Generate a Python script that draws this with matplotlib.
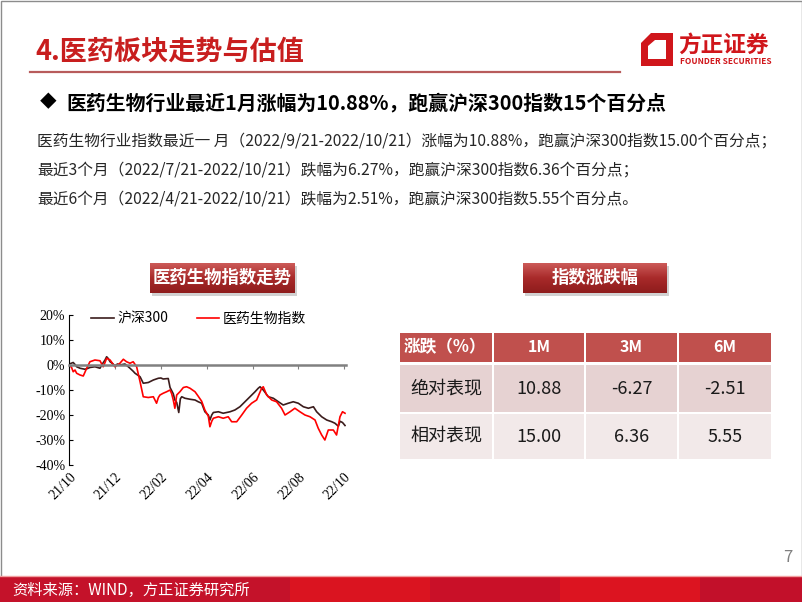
import matplotlib.pyplot as plt
import numpy as np
from matplotlib.patches import Rectangle, Polygon
from matplotlib.colors import LinearSegmentedColormap

plt.rcParams['font.family'] = ['Noto Sans CJK SC', 'DejaVu Sans']

# 走势图数据：横轴为自 2021/10/21 起的月数，纵轴为累计涨跌幅(%)
hs300_x = [0, 0.17, 0.25, 0.32, 0.47, 0.68, 0.8, 0.9, 1.12, 1.34, 1.45, 1.56, 1.63, 1.7, 1.78,
           1.9, 1.99, 2.1, 2.21, 2.43, 2.55, 2.65, 2.79, 2.87, 3.09, 3.23, 3.45, 3.67, 3.89, 4.0,
           4.1, 4.32, 4.4, 4.54, 4.61, 4.69, 4.78, 4.85, 4.91, 5.05, 5.27, 5.49, 5.63, 5.78, 5.92,
           6.07, 6.14, 6.22, 6.29, 6.51, 6.72, 7.02, 7.23, 7.45, 7.67, 7.89, 8.11, 8.25, 8.33, 8.47,
           8.69, 8.91, 9.13, 9.34, 9.56, 9.78, 10.0, 10.22, 10.44, 10.66, 10.8, 11.02, 11.24, 11.46,
           11.6, 11.75, 11.82, 11.93, 12.04]
hs300_y = [0.4, 1.0, 0.2, -0.7, -1.3, -1.7, -1.4, -1.0, -0.7, -1.3, 0.5, 2.0, 3.3, 2.6, 1.3,
           0.5, -0.4, 0.4, 0, 0.4, -0.5, -1.3, -2.5, -3.3, -4.7, -7.3, -7.0, -6.0, -5.3, -5.2,
           -5.6, -5.4, -9.0, -11.5, -14.0, -15.0, -19.0, -13.5, -12.7, -13.3, -13.7, -14.0, -14.7, -15.3, -18.7,
           -20.0, -22.0, -20.0, -19.0, -18.7, -19.3, -18.7, -18.0, -16.7, -14.7, -12.7, -10.7, -9.3, -8.7, -10.0,
           -12.7, -13.3, -14.7, -16.0, -15.3, -14.7, -15.3, -16.7, -17.3, -16.7, -18.7, -20.7, -22.0, -22.7,
           -23.3, -24.5, -22.5, -23.0, -24.2]

yiyao_x = [0, 0.1, 0.17, 0.25, 0.32, 0.47, 0.61, 0.76, 0.9, 1.12, 1.34, 1.48, 1.56, 1.63, 1.78,
           1.99, 2.21, 2.36, 2.5, 2.65, 2.79, 2.94, 3.09, 3.23, 3.45, 3.67, 3.81, 3.89, 3.96, 4.1,
           4.25, 4.4, 4.47, 4.54, 4.61, 4.69, 4.83, 4.98, 5.12, 5.27, 5.49, 5.63, 5.78, 5.92, 6.07,
           6.14, 6.22, 6.29, 6.51, 6.72, 6.94, 7.09, 7.31, 7.53, 7.74, 7.96, 8.18, 8.4, 8.47, 8.62,
           8.84, 9.05, 9.27, 9.42, 9.64, 9.85, 10.07, 10.29, 10.51, 10.73, 10.87, 11.02, 11.16, 11.31,
           11.53, 11.67, 11.82, 11.93, 12.04]
yiyao_y = [0, -1.0, -2.7, -2.0, -3.3, -4.0, -4.4, -1.3, 1.3, 2.0, 1.7, -0.7, 1.0, 2.7, 2.0,
           -0.7, 0.7, 2.3, 1.3, 0.7, 1.3, -0.7, -6.7, -12.7, -13.0, -12.7, -15.3, -13.0, -12.0, -11.3,
           -10.7, -10.0, -11.5, -14.0, -17.3, -12.0, -10.7, -9.0, -8.7, -9.3, -10.7, -12.5, -14.5, -18.0, -20.5,
           -24.7, -22.5, -21.3, -20.7, -21.3, -20.7, -22.7, -22.7, -20.0, -17.3, -15.3, -14.0, -9.3, -8.7, -12.0,
           -14.0, -14.7, -17.3, -20.0, -18.7, -17.3, -18.7, -20.0, -20.7, -22.0, -25.3, -28.0, -30.0, -26.0,
           -26.0, -28.0, -20.7, -18.7, -19.3]

x_tick_pos = [0, 2, 4, 6, 8, 10, 12]
x_tick_labels = ['21/10', '21/12', '22/02', '22/04', '22/06', '22/08', '22/10']
y_ticks = [20, 10, 0, -10, -20, -30, -40]

# 涨跌幅表格
table_header = ['涨跌（%）', '1M', '3M', '6M']
row_names = ['绝对表现', '相对表现']
row_values = [[10.88, -6.27, -2.51], [15.00, 6.36, 5.55]]

body_lines = [
    '医药生物行业指数最近一 月（2022/9/21-2022/10/21）涨幅为10.88%，跑赢沪深300指数15.00个百分点；',
    '最近3个月（2022/7/21-2022/10/21）跌幅为6.27%，跑赢沪深300指数6.36个百分点；',
    '最近6个月（2022/4/21-2022/10/21）跌幅为2.51%，跑赢沪深300指数5.55个百分点。',
]

fig = plt.figure(figsize=(8.02, 6.02), dpi=100)

# 整页背景层，用像素坐标排版
bg = fig.add_axes([0, 0, 1, 1], zorder=0)
bg.axis('off')

red = '#c81e1e'
bg.add_patch(Rectangle((0.5, 0.5), 801, 601, fill=False, ec='#8c8c8c', lw=1))

# 标题与下划线
bg.text(35, 52, '4.医药板块走势与估值', fontsize=19.5, fontweight='bold', color=red, va='center')
bg.plot([30, 620], [72, 72], color='#b85c5c', lw=1.6)

# logo
bg.add_patch(Polygon([(641, 43), (651, 33), (673, 33), (673, 66), (641, 66)], color='#d0161b', lw=0))
bg.add_patch(Polygon([(648, 46), (655, 40), (666, 40), (666, 59), (648, 59)], color='white', lw=0))
bg.text(678, 45, '方正证券', fontsize=16.3, fontweight='bold', color='#d0161b', va='center')
bg.text(680, 62, 'FOUNDER SECURITIES', fontsize=6.0, fontweight='bold', color='#d0161b', va='center')

# 要点
bg.text(40, 103, '◆', fontsize=12, color='black', va='center')
bg.text(66, 103, '医药生物行业最近1月涨幅为10.88%，跑赢沪深300指数15个百分点',
        fontsize=14.3, fontweight='bold', color='black', va='center')
for i, line in enumerate(body_lines):
    bg.text(37, 141 + i * 29, line, fontsize=11.3, color='#262626', va='center')

# 带渐变的小标题框
cmap_box = LinearSegmentedColormap.from_list('box', ['#cc5a58', '#a82a2a', '#8e1c1c'])
grad = np.linspace(0, 1, 60).reshape(-1, 1)


def title_box(x, y, w, h, text):
    bg.add_patch(Rectangle((x + 2, y + 3), w, h, color='#9a9a9a', alpha=0.45, lw=0, zorder=1))
    bg.imshow(grad, extent=(x, x + w, y + h, y), cmap=cmap_box, aspect='auto', zorder=2)
    bg.text(x + w / 2, y + h / 2, text, fontsize=12.5, fontweight='bold', color='white',
            ha='center', va='center', zorder=3)


title_box(150, 263, 145, 30, '医药生物指数走势')
title_box(523, 263, 144, 30, '指数涨跌幅')

# 表格
col_left = [400, 494, 586, 679]
col_width = [92, 90, 91, 92]
row_top = [333, 365, 414]
row_height = [29, 47, 45]
row_colors = ['#c0504d', '#e6d2d2', '#f2e9e9']
for r in range(3):
    for c in range(4):
        bg.add_patch(Rectangle((col_left[c], row_top[r]), col_width[c], row_height[r],
                               color=row_colors[r], lw=0))
for c, name in enumerate(table_header):
    cy = row_top[0] + row_height[0] / 2
    if c == 0:
        bg.text(col_left[c] + 4, cy, name, fontsize=12, fontweight='bold', color='white', va='center')
    else:
        bg.text(col_left[c] + col_width[c] / 2, cy, name, fontsize=11.5, fontweight='bold',
                color='white', ha='center', va='center')
for r, name in enumerate(row_names):
    cy = row_top[r + 1] + row_height[r + 1] / 2
    bg.text(col_left[0] + col_width[0] / 2, cy, name, fontsize=13, color='#1a1a1a', ha='center', va='center')
    for c, v in enumerate(row_values[r]):
        bg.text(col_left[c + 1] + col_width[c + 1] / 2, cy, f'{v:.2f}', fontsize=13,
                color='#1a1a1a', ha='center', va='center')

# 页脚
bg.plot([0, 802], [576, 576], color='#f2a0a0', lw=1)
seg_x = [0, 290, 430, 560, 700, 802]
seg_c = ['#c4122a', '#da1420', '#c91028', '#dc1420', '#c2102a']
for i in range(len(seg_c)):
    bg.add_patch(Rectangle((seg_x[i], 577), seg_x[i + 1] - seg_x[i], 25, color=seg_c[i], lw=0))
bg.text(12, 590, '资料来源：WIND，方正证券研究所', fontsize=11, color='white', va='center')
bg.text(792, 557, '7', fontsize=12, color='#808080', ha='right', va='center')

bg.set_xlim(0, 802)
bg.set_ylim(602, 0)

# 走势图
ax = fig.add_axes([69.3 / 802, 1 - 465 / 602, (346.4 - 69.3) / 802, 150 / 602], zorder=2)
ax.patch.set_alpha(0)
ax.plot(hs300_x, hs300_y, color='#3b1c1c', lw=1.2, label='沪深300')
ax.plot(yiyao_x, yiyao_y, color='#ff0000', lw=1.2, label='医药生物指数')
ax.set_xlim(0, 12.1)
ax.set_ylim(-40, 20)

ax.spines['top'].set_visible(False)
ax.spines['right'].set_visible(False)
ax.spines['bottom'].set_position(('data', 0))
ax.spines['bottom'].set_color('#808080')
ax.spines['bottom'].set_linewidth(1.8)
ax.spines['left'].set_linewidth(0.8)

ax.set_xticks(x_tick_pos)
ax.tick_params(axis='x', direction='out', length=3, color='#808080', labelbottom=False)
ax.set_yticks(y_ticks)
ax.set_yticklabels([f'{v}%' for v in y_ticks], family='Liberation Serif', fontsize=10)
ax.tick_params(axis='y', direction='in', length=3, pad=3)

sec = ax.secondary_xaxis('bottom')
sec.set_xticks(x_tick_pos)
sec.set_xticklabels(x_tick_labels, rotation=45, ha='right', rotation_mode='anchor',
                    family='Liberation Serif', fontsize=10)
sec.spines['bottom'].set_visible(False)
sec.tick_params(length=0, pad=4)

ax.legend(loc='upper left', bbox_to_anchor=(0.06, 1.06), ncol=2, frameon=False,
          handlelength=1.6, handletextpad=0.3, columnspacing=2.0, fontsize=10, borderaxespad=0)

fig.savefig('out.png', dpi=100)
